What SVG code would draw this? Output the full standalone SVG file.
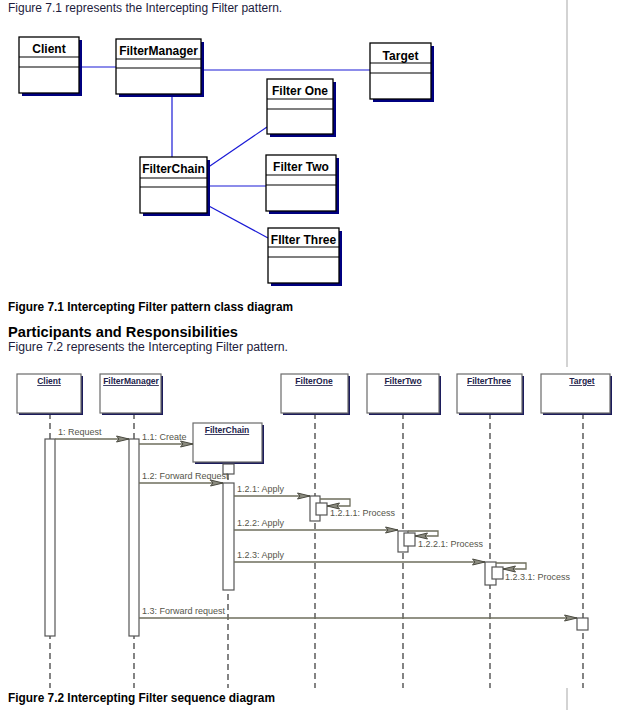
<svg xmlns="http://www.w3.org/2000/svg" width="643" height="710" viewBox="0 0 643 710">
  <style>
    .para { font-family: "Liberation Sans", Arial, sans-serif; font-size: 12px; fill: #1c1c3c; }
    .cap { font-family: "Liberation Sans", Arial, sans-serif; font-size: 12px; font-weight: bold; fill: #000; }
    .head { font-family: "Liberation Sans", Arial, sans-serif; font-size: 15px; font-weight: bold; fill: #000; }
    .cls rect.box { fill: #fff; stroke: #000; stroke-width: 1.3; }
    .cls rect.sh { fill: #000080; }
    .cls line { stroke: #000; stroke-width: 1.2; }
    .cls text { font-family: "Liberation Sans", Arial, sans-serif; font-size: 12px; font-weight: bold; fill: #000; text-anchor: middle; }
    .assoc line { stroke: #1a1ad6; stroke-width: 1.2; }
    .obj rect.box { fill: #fff; stroke: #6a6a6a; stroke-width: 1.2; }
    .obj rect.sh { fill: #1c1c5c; }
    .obj text { font-family: "Liberation Sans", Arial, sans-serif; font-size: 8.5px; font-weight: bold; fill: #22224a; text-anchor: middle; text-decoration: underline; }
    .life { stroke: #333; stroke-width: 1.2; stroke-dasharray: 6 4; fill: none; }
    .act { fill: #fff; stroke: #555; stroke-width: 1.2; }
    .msg { stroke: #6e6e5c; stroke-width: 1.3; fill: none; }
    .mtxt { font-family: "Liberation Sans", Arial, sans-serif; font-size: 9px; fill: #55554a; }
    .rule { stroke: #c4c4c4; stroke-width: 1.5; }
  </style>
  <defs>
    <marker id="arr" viewBox="0 0 14 8" refX="13" refY="4" markerWidth="14" markerHeight="8" markerUnits="userSpaceOnUse" orient="auto">
      <path d="M0.5,1 L13,4 L0.5,7 L3,4 z" fill="#8c8c80" stroke="#4a4a40" stroke-width="1"/>
    </marker>
  </defs>

  <rect width="643" height="710" fill="#fff"/>

  <!-- page rules -->
  <line class="rule" x1="567" y1="0" x2="567" y2="367"/>
  <line class="rule" x1="567" y1="688" x2="567" y2="710"/>

  <!-- page text -->
  <text class="para" x="8" y="12">Figure 7.1 represents the Intercepting Filter pattern.</text>
  <text class="cap" x="8" y="311" textLength="285" lengthAdjust="spacingAndGlyphs">Figure 7.1 Intercepting Filter pattern class diagram</text>
  <text class="head" x="8" y="337" textLength="230" lengthAdjust="spacingAndGlyphs">Participants and Responsibilities</text>
  <text class="para" x="8" y="351" textLength="280" lengthAdjust="spacingAndGlyphs">Figure 7.2 represents the Intercepting Filter pattern.</text>
  <text class="cap" x="8" y="702" textLength="267" lengthAdjust="spacingAndGlyphs">Figure 7.2 Intercepting Filter sequence diagram</text>

  <!-- class diagram: associations -->
  <g id="class-connectors" class="assoc">
    <line x1="79" y1="67" x2="116" y2="67"/>
    <line x1="201" y1="70" x2="370" y2="70"/>
    <line x1="172" y1="94" x2="172" y2="157"/>
    <line x1="207" y1="168" x2="267" y2="127"/>
    <line x1="207" y1="186" x2="266" y2="186"/>
    <line x1="207" y1="205" x2="268" y2="238"/>
  </g>

  <!-- class diagram: classes -->
  <g id="cls-client" class="cls">
    <rect class="sh" x="22" y="40" width="60" height="56"/>
    <rect class="box" x="19" y="37" width="60" height="56"/>
    <line x1="19" y1="57" x2="79" y2="57"/>
    <line x1="19" y1="67" x2="79" y2="67"/>
    <text x="49" y="53">Client</text>
  </g>
  <g id="cls-filtermanager" class="cls">
    <rect class="sh" x="119" y="42" width="85" height="55"/>
    <rect class="box" x="116" y="39" width="85" height="55"/>
    <line x1="116" y1="59" x2="201" y2="59"/>
    <line x1="116" y1="68" x2="201" y2="68"/>
    <text x="158.5" y="55">FilterManager</text>
  </g>
  <g id="cls-target" class="cls">
    <rect class="sh" x="373" y="46" width="61" height="56"/>
    <rect class="box" x="370" y="43" width="61" height="56"/>
    <line x1="370" y1="63" x2="431" y2="63"/>
    <line x1="370" y1="73" x2="431" y2="73"/>
    <text x="400.5" y="60">Target</text>
  </g>
  <g id="cls-filterone" class="cls">
    <rect class="sh" x="270" y="82" width="66" height="55"/>
    <rect class="box" x="267" y="79" width="66" height="55"/>
    <line x1="267" y1="99" x2="333" y2="99"/>
    <line x1="267" y1="109" x2="333" y2="109"/>
    <text x="300" y="95">Filter One</text>
  </g>
  <g id="cls-filterchain" class="cls">
    <rect class="sh" x="143" y="160" width="67" height="56"/>
    <rect class="box" x="140" y="157" width="67" height="56"/>
    <line x1="140" y1="178" x2="207" y2="178"/>
    <line x1="140" y1="187" x2="207" y2="187"/>
    <text x="173.5" y="173">FilterChain</text>
  </g>
  <g id="cls-filtertwo" class="cls">
    <rect class="sh" x="269" y="158" width="70" height="56"/>
    <rect class="box" x="266" y="155" width="70" height="56"/>
    <line x1="266" y1="175" x2="336" y2="175"/>
    <line x1="266" y1="185" x2="336" y2="185"/>
    <text x="301" y="171">Filter Two</text>
  </g>
  <g id="cls-filterthree" class="cls">
    <rect class="sh" x="271" y="231" width="71" height="55"/>
    <rect class="box" x="268" y="228" width="71" height="55"/>
    <line x1="268" y1="247" x2="339" y2="247"/>
    <line x1="268" y1="257" x2="339" y2="257"/>
    <text x="303.5" y="244">FIlter Three</text>
  </g>

  <!-- sequence diagram: lifelines -->
  <g id="lifelines">
    <line class="life" x1="50" y1="413" x2="50" y2="688"/>
    <line class="life" x1="134" y1="413" x2="134" y2="688"/>
    <line class="life" x1="228" y1="474" x2="228" y2="688"/>
    <line class="life" x1="315" y1="413" x2="315" y2="688"/>
    <line class="life" x1="403" y1="413" x2="403" y2="688"/>
    <line class="life" x1="490" y1="413" x2="490" y2="688"/>
    <line class="life" x1="583" y1="413" x2="583" y2="688"/>
  </g>

  <!-- sequence diagram: objects -->
  <g id="obj-client" class="obj">
    <rect class="sh" x="19" y="376" width="64" height="39"/>
    <rect class="box" x="17" y="374" width="64" height="39"/>
    <text x="49" y="384">Client </text>
  </g>
  <g id="obj-filtermanager" class="obj">
    <rect class="sh" x="102" y="376" width="61" height="39"/>
    <rect class="box" x="100" y="374" width="61" height="39"/>
    <text x="131" y="384">FilterManager </text>
  </g>
  <g id="obj-filterone" class="obj">
    <rect class="sh" x="283" y="376" width="67" height="39"/>
    <rect class="box" x="281" y="374" width="67" height="39"/>
    <text x="314" y="384">FilterOne </text>
  </g>
  <g id="obj-filtertwo" class="obj">
    <rect class="sh" x="369" y="376" width="72" height="39"/>
    <rect class="box" x="367" y="374" width="72" height="39"/>
    <text x="403" y="384">FilterTwo </text>
  </g>
  <g id="obj-filterthree" class="obj">
    <rect class="sh" x="459" y="376" width="65" height="39"/>
    <rect class="box" x="457" y="374" width="65" height="39"/>
    <text x="489" y="384">FilterThree </text>
  </g>
  <g id="obj-target" class="obj">
    <rect class="sh" x="543" y="376" width="69" height="39"/>
    <rect class="box" x="541" y="374" width="69" height="39"/>
    <text x="582" y="384">Target </text>
  </g>
  <g id="obj-filterchain" class="obj">
    <rect class="sh" x="195" y="425" width="69" height="39"/>
    <rect class="box" x="193" y="423" width="69" height="39"/>
    <text x="227" y="433">FilterChain </text>
    <rect class="act" x="223" y="464" width="11" height="10"/>
  </g>

  <!-- sequence diagram: activations -->
  <g id="activations">
    <rect class="act" x="45" y="439" width="10" height="197"/>
    <rect class="act" x="129" y="439" width="10" height="197"/>
    <rect class="act" x="223" y="483" width="11" height="107"/>
    <rect class="act" x="310" y="496" width="10" height="25"/>
    <rect class="act" x="316" y="503" width="11" height="12"/>
    <rect class="act" x="398" y="531" width="10" height="21"/>
    <rect class="act" x="404" y="533" width="11" height="13"/>
    <rect class="act" x="485" y="562" width="11" height="23"/>
    <rect class="act" x="492" y="567" width="11" height="12"/>
    <rect class="act" x="577" y="618" width="11" height="12"/>
  </g>

  <!-- sequence diagram: messages -->
  <g id="messages">
    <line class="msg" x1="55" y1="439" x2="129" y2="439" marker-end="url(#arr)"/>
    <line class="msg" x1="139" y1="444" x2="193" y2="444" marker-end="url(#arr)"/>
    <line class="msg" x1="139" y1="483" x2="223" y2="483" marker-end="url(#arr)"/>
    <line class="msg" x1="234" y1="496" x2="310" y2="496" marker-end="url(#arr)"/>
    <path class="msg" d="M320,499 H350 V506 H327" marker-end="url(#arr)"/>
    <line class="msg" x1="234" y1="530" x2="398" y2="530" marker-end="url(#arr)"/>
    <path class="msg" d="M408,531 H438 V536 H415" marker-end="url(#arr)"/>
    <line class="msg" x1="234" y1="562" x2="485" y2="562" marker-end="url(#arr)"/>
    <path class="msg" d="M496,563 H526 V569 H503" marker-end="url(#arr)"/>
    <line class="msg" x1="139" y1="618" x2="577" y2="618" marker-end="url(#arr)"/>
  </g>

  <!-- sequence diagram: message labels -->
  <g id="message-labels" class="mtxt">
    <text x="58" y="435">1: Request</text>
    <text x="142" y="440">1.1: Create</text>
    <text x="142" y="479">1.2: Forward Request</text>
    <text x="237" y="492">1.2.1: Apply</text>
    <text x="330" y="516">1.2.1.1: Process</text>
    <text x="237" y="526">1.2.2: Apply</text>
    <text x="418" y="547">1.2.2.1: Process</text>
    <text x="237" y="558">1.2.3: Apply</text>
    <text x="505" y="580">1.2.3.1: Process</text>
    <text x="142" y="614">1.3: Forward request</text>
  </g>
</svg>
